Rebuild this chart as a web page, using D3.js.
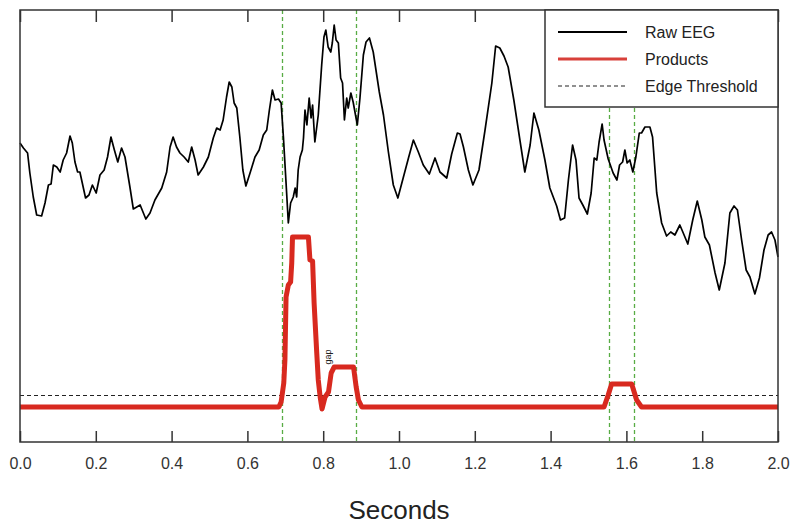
<!DOCTYPE html>
<html lang="en">
<head>
	<meta charset="utf-8">
	<script src="https://d3js.org/d3.v7.min.js"></script>
	<style type="text/css">
		body {
			margin: 0;
			background: #fff;
			font-family: "Liberation Sans", Arial, sans-serif;
		}
	</style>
</head>
<body>
	<script type="text/javascript">

	// raw EEG trace (seconds, arbitrary amplitude units)
	var eegTime = [0.000,0.009,0.020,0.026,0.035,0.044,0.057,0.066,0.075,0.082,0.088,0.097,0.106,0.114,0.123,0.132,0.138,0.145,0.152,0.158,
		0.173,0.182,0.191,0.201,0.211,0.222,0.231,0.240,0.249,0.258,0.268,0.277,0.290,0.299,0.317,0.332,0.343,0.356,0.374,0.387,
		0.396,0.404,0.413,0.422,0.433,0.444,0.453,0.462,0.470,0.484,0.497,0.510,0.519,0.528,0.536,0.545,0.552,0.559,0.565,0.572,
		0.580,0.588,0.596,0.607,0.620,0.631,0.642,0.651,0.658,0.666,0.673,0.682,0.689,0.695,0.702,0.708,0.714,0.721,0.726,0.730,
		0.734,0.739,0.745,0.748,0.752,0.757,0.763,0.768,0.772,0.778,0.787,0.796,0.802,0.807,0.813,0.820,0.824,0.829,0.834,0.840,
		0.846,0.851,0.856,0.862,0.866,0.873,0.879,0.890,0.897,0.906,0.913,0.922,0.932,0.948,0.959,0.972,0.985,0.997,1.011,1.025,
		1.038,1.051,1.064,1.080,1.095,1.108,1.126,1.139,1.154,1.161,1.170,1.183,1.195,1.211,1.227,1.245,1.255,1.266,1.277,1.288,
		1.303,1.319,1.332,1.346,1.356,1.369,1.385,1.398,1.416,1.426,1.437,1.447,1.458,1.467,1.475,1.485,1.497,1.507,1.515,1.522,
		1.528,1.536,1.541,1.552,1.565,1.575,1.582,1.590,1.596,1.602,1.609,1.617,1.625,1.634,1.640,1.649,1.662,1.669,1.680,1.693,
		1.706,1.717,1.728,1.741,1.750,1.762,1.775,1.787,1.799,1.807,1.819,1.834,1.845,1.860,1.873,1.884,1.893,1.904,1.916,1.926,
		1.939,1.951,1.963,1.974,1.983,1.992,2.000];
	var eegAmp = [264,259,254,234,210,192,191,204,222,223,242,240,235,247,254,271,264,245,235,235,
		209,212,222,214,232,237,250,270,257,245,259,250,220,198,202,188,194,207,219,235,
		260,270,260,254,250,245,260,247,232,240,250,269,279,277,287,310,325,320,304,299,
		270,237,221,234,250,257,272,277,297,317,307,308,304,270,224,184,204,210,219,210,
		237,250,257,269,297,282,309,289,302,265,292,342,370,377,360,355,364,382,367,364,
		329,324,287,309,299,314,305,282,309,352,365,369,355,315,292,255,222,209,229,249,
		267,255,242,233,249,235,229,253,274,273,260,237,222,237,277,324,361,359,351,340,
		307,267,235,262,294,277,247,219,201,187,189,227,262,247,209,202,193,214,249,247,
		265,283,267,248,234,227,242,245,257,244,247,235,250,274,274,280,280,270,214,184,
		171,175,172,182,174,163,187,206,187,170,162,134,117,144,194,201,197,167,137,130,
		113,129,157,172,175,167,150];

	// product of detail coefficients
	var prodTime = [0.000,0.683,0.689,0.696,0.699,0.702,0.708,0.714,0.717,0.719,0.761,0.765,0.772,0.776,0.783,0.787,0.792,0.797,
		0.805,0.814,0.821,0.829,0.880,0.887,0.893,0.902,1.541,1.552,1.561,1.614,1.627,1.640,2.000];
	var prodAmp = [0,0,5,24,47,110,122,125,144,170,170,147,146,104,54,27,10,-2,
		10,15,34,40,40,20,7,0,0,12,23,23,7,0,0];

	var threshold = 12;
	var edgeTimes = [0.690, 0.887, 1.553, 1.620];
	var xTicks = [0.0, 0.2, 0.4, 0.6, 0.8, 1.0, 1.2, 1.4, 1.6, 1.8, 2.0];
	var legendText = ["Raw EEG", "Products", "Edge Threshold"];

	var width = 800;
	var height = 529;
	var pl = 20, pr = 778, pt = 10, pb = 442;

	var x = d3.scaleLinear().domain([0, 2]).range([pl, pr]);
	var y = d3.scaleLinear().domain([-35, 397]).range([pb, pt]);

	var svg = d3.select("body").append("svg")
		.attr("width", width)
		.attr("height", height);

	var eeg = eegTime.map(function(t, i) { return [t, eegAmp[i]]; });
	var prod = prodTime.map(function(t, i) { return [t, prodAmp[i]]; });

	var line = d3.line()
		.x(function(d) { return x(d[0]); })
		.y(function(d) { return y(d[1]); });

	// edge markers (snapped to pixel so the dash stays green)
	svg.selectAll("line.edge")
		.data(edgeTimes)
		.enter().append("line")
		.attr("class", "edge")
		.attr("x1", function(d) { return Math.round(x(d)) + 0.5; })
		.attr("x2", function(d) { return Math.round(x(d)) + 0.5; })
		.attr("y1", pt)
		.attr("y2", pb)
		.style("stroke", "#58ac44")
		.style("stroke-width", 1.3)
		.style("stroke-dasharray", "4,3");

	// threshold
	svg.append("line")
		.attr("x1", pl).attr("x2", pr)
		.attr("y1", Math.round(y(threshold)) + 0.5).attr("y2", Math.round(y(threshold)) + 0.5)
		.style("stroke", "#222")
		.style("stroke-width", 1)
		.style("stroke-dasharray", "4,3");

	svg.append("path")
		.datum(prod)
		.attr("d", line)
		.style("fill", "none")
		.style("stroke", "#d8291f")
		.style("stroke-width", 5)
		.style("stroke-linejoin", "round");

	svg.append("path")
		.datum(eeg)
		.attr("d", line)
		.style("fill", "none")
		.style("stroke", "#000")
		.style("stroke-width", 1.7)
		.style("stroke-linejoin", "round");

	svg.append("text")
		.attr("transform", "translate(" + (x(0.812) + 3) + "," + y(50) + ") rotate(-90)")
		.attr("text-anchor", "middle")
		.style("font-size", "9px")
		.style("fill", "#222")
		.text("gap");

	// axes: ticks inside on top and bottom
	var xBottom = d3.axisBottom(x).tickValues(xTicks).tickSize(-11).tickPadding(16)
		.tickFormat(d3.format(".1f"));
	var gb = svg.append("g").attr("transform", "translate(0," + pb + ")").call(xBottom);
	gb.select(".domain").remove();
	gb.selectAll("line").style("stroke", "#333").style("stroke-width", 1.5);
	gb.selectAll("text").style("font-size", "16px").style("fill", "#333")
		.style("font-family", "'Liberation Sans', Arial, sans-serif");

	var xTop = d3.axisTop(x).tickValues(xTicks).tickSize(-12).tickFormat("");
	var gt = svg.append("g").attr("transform", "translate(0," + pt + ")").call(xTop);
	gt.select(".domain").remove();
	gt.selectAll("line").style("stroke", "#333").style("stroke-width", 1.5);

	svg.append("rect")
		.attr("x", pl).attr("y", pt)
		.attr("width", pr - pl).attr("height", pb - pt)
		.style("fill", "none")
		.style("stroke", "#333")
		.style("stroke-width", 1.5);

	svg.append("text")
		.attr("x", (pl + pr) / 2)
		.attr("y", 519)
		.attr("text-anchor", "middle")
		.style("font-size", "26px")
		.style("fill", "#222")
		.text("Seconds");

	// legend
	var legend = svg.append("g");
	legend.append("rect")
		.attr("x", 545).attr("y", pt)
		.attr("width", pr - 545).attr("height", 97)
		.style("fill", "#fff")
		.style("stroke", "#333")
		.style("stroke-width", 1.5);

	var legendStyle = [
		{ color: "#000", w: 1.8, dash: null },
		{ color: "#d8403a", w: 3, dash: null },
		{ color: "#222", w: 1.2, dash: "4,3" }
	];

	var rows = legend.selectAll("g.row")
		.data(legendText)
		.enter().append("g")
		.attr("class", "row")
		.attr("transform", function(d, i) { return "translate(0," + (32 + i * 27) + ")"; });

	rows.append("line")
		.attr("x1", 558).attr("x2", 627)
		.style("stroke", function(d, i) { return legendStyle[i].color; })
		.style("stroke-width", function(d, i) { return legendStyle[i].w; })
		.style("stroke-dasharray", function(d, i) { return legendStyle[i].dash; });

	rows.append("text")
		.attr("x", 645)
		.attr("dy", ".35em")
		.style("font-size", "16px")
		.style("fill", "#222")
		.text(function(d) { return d; });

	</script>
</body>
</html>
